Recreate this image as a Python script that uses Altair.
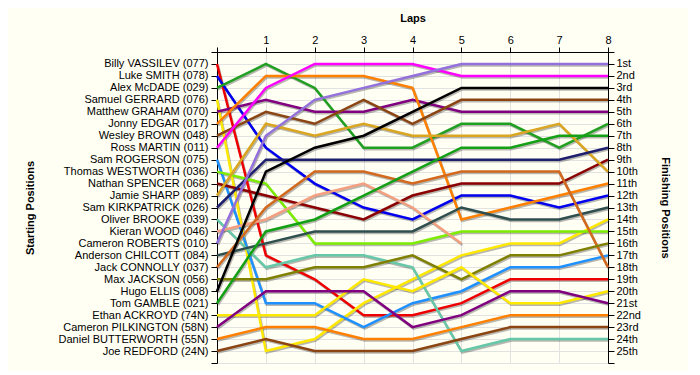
import json
import altair as alt
import pandas as pd

DRIVERS = [
    "Billy VASSILEV (077)", "Luke SMITH (078)", "Alex McDADE (029)", "Samuel GERRARD (076)",
    "Matthew GRAHAM (070)", "Jonny EDGAR (017)", "Wesley BROWN (048)", "Ross MARTIN (011)",
    "Sam ROGERSON (075)", "Thomas WESTWORTH (036)", "Nathan SPENCER (068)", "Jamie SHARP (089)",
    "Sam KIRKPATRICK (026)", "Oliver BROOKE (039)", "Kieran WOOD (046)", "Cameron ROBERTS (010)",
    "Anderson CHILCOTT (084)", "Jack CONNOLLY (037)", "Max JACKSON (056)", "Hugo ELLIS (008)",
    "Tom GAMBLE (021)", "Ethan ACKROYD (74N)", "Cameron PILKINGTON (58N)",
    "Daniel BUTTERWORTH (55N)", "Joe REDFORD (24N)",
]

COLORS = [
    "#ee0000", "#0000ee", "#20a020", "#ffe800", "#800080", "#ff8000", "#8b4513", "#ff00ff",
    "#1e90ff", "#7cec00", "#8b0000", "#daa520", "#1f1f6f", "#66c8a8", "#f4a080", "#9370db",
    "#2f4f4f", "#d2691e", "#808000", "#000000", "#14a014", "#ffe800", "#800080", "#ff8000",
    "#8b4513",
]

# position of each driver at lap 0..8 (lap 0 = grid)
POSITIONS = [
    [1, 17, 19, 22, 22, 21, 19, 19, 19],
    [2, 8, 11, 13, 14, 12, 12, 13, 12],
    [3, 1, 3, 8, 8, 6, 6, 8, 6],
    [4, 25, 24, 21, 19, 17, 16, 16, 14],
    [5, 4, 5, 5, 4, 5, 5, 5, 5],
    [6, 2, 2, 2, 3, 14, 13, 12, 11],
    [7, 5, 6, 4, 6, 4, 4, 4, 4],
    [8, 3, 1, 1, 1, 2, 2, 2, 2],
    [9, 21, 21, 23, 21, 20, 18, 18, 17],
    [10, 11, 16, 16, 16, 15, 15, 15, 15],
    [11, 12, 13, 14, 12, 11, 11, 11, 9],
    [12, 6, 7, 6, 7, 7, 7, 6, 10],
    [13, 9, 9, 9, 9, 9, 9, 9, 8],
    [14, 18, 17, 17, 18, 25, 24, 24, 24],
    [15, 14, 12, 11, 13, 16],
    [16, 7, 4, 3, 2, 1, 1, 1, 1],
    [17, 16, 15, 15, 15, 13, 14, 14, 13],
    [18, 13, 10, 10, 11, 10, 10, 10, 18],
    [19, 19, 18, 18, 17, 19, 17, 17, 16],
    [20, 10, 8, 7, 5, 3, 3, 3, 3],
    [21, 15, 14, 12, 10, 8, 8, 7, 7],
    [22, 22, 22, 19, 20, 18, 21, 21, 20],
    [23, 20, 20, 20, 23, 22, 20, 20, 21],
    [24, 23, 23, 24, 24, 23, 22, 22, 22],
    [25, 24, 25, 25, 25, 24, 23, 23, 23],
]

FINISH_LABELS = [
    "1st", "2nd", "3rd", "4th", "5th", "6th", "7th", "8th", "9th", "10th", "11th", "12th",
    "13th", "14th", "15th", "16th", "17th", "18th", "19th", "20th", "21st", "22nd", "23rd",
    "24th", "25th",
]

LAP_TICKS = list(range(9))

rows = []
for i, (name, pos_list) in enumerate(zip(DRIVERS, POSITIONS)):
    for lap, p in enumerate(pos_list):
        rows.append({"driver": name, "idx": i, "lap": lap, "pos": p})
df = pd.DataFrame(rows)

FONT = "Liberation Sans"
left_labels = [""] + DRIVERS + [""]
right_labels = [""] + FINISH_LABELS + [""]
y_values = list(range(27))

yscale = alt.Scale(domain=[0, 26], reverse=True, nice=False, zero=False)
xscale = alt.Scale(domain=[0, 8], nice=False, zero=False)

x_axis = alt.Axis(
    orient="top", values=LAP_TICKS, labelExpr="datum.value == 0 ? '' : datum.label",
    title="Laps", titleFont=FONT, titleFontSize=11, titleFontWeight="bold", titleColor="black",
    titleY=-29, labelFont=FONT, labelFontSize=11, labelColor="black", labelPadding=2,
    labelFlush=False, tickSize=5, tickColor="black", domainColor="black",
    grid=True, gridColor="#e2e2e2", gridWidth=1,
)

left_axis = alt.Axis(
    orient="left", values=y_values, labelExpr=f"{json.dumps(left_labels)}[datum.value]",
    title="Starting Positions", titleFont=FONT, titleFontSize=11, titleFontWeight="bold",
    titleColor="black", titleX=-182, titleY=155.5, labelFont=FONT, labelFontSize=11,
    labelColor="black", labelPadding=3, labelOverlap=False, labelFlush=False, labelLimit=300,
    tickSize=6, tickColor="black", domainColor="black",
    grid=True, gridColor="#e2e2e2", gridWidth=1,
)

right_axis = alt.Axis(
    orient="right", values=y_values, labelExpr=f"{json.dumps(right_labels)}[datum.value]",
    title="Finishing Positions", titleFont=FONT, titleFontSize=11, titleFontWeight="bold",
    titleColor="black", titleX=51, titleY=155.5, labelFont=FONT, labelFontSize=11,
    labelColor="black", labelPadding=2, labelOverlap=False, labelFlush=False,
    tickSize=6, tickColor="black", domainColor="black", grid=False,
)

color = alt.Color("driver:N", scale=alt.Scale(domain=DRIVERS, range=COLORS), legend=None)

base = alt.Chart(df)

shadow = base.mark_line(strokeWidth=2.5, color="#000000", opacity=0.28, xOffset=1, yOffset=1.5).encode(
    x=alt.X("lap:Q", scale=xscale, axis=x_axis),
    y=alt.Y("pos:Q", scale=yscale, axis=None),
    detail="driver:N",
    order="lap:Q",
)

lines = base.mark_line(strokeWidth=2.5).encode(
    x=alt.X("lap:Q", scale=xscale, axis=x_axis),
    y=alt.Y("pos:Q", scale=yscale, axis=left_axis),
    color=color,
    order="lap:Q",
)

right = base.mark_line(opacity=0).encode(
    x=alt.X("lap:Q", scale=xscale, axis=x_axis),
    y=alt.Y("pos:Q", scale=yscale, axis=right_axis),
    detail="driver:N",
)

chart = alt.layer(shadow, lines, right).resolve_scale(y="independent").properties(
    width=391, height=311,
    padding={"left": 209, "top": 44, "right": 80, "bottom": 8},
    autosize="none",
    background="#fffff4",
).configure_view(stroke=None)

chart.save("out.html", embed_options={"renderer": "svg", "actions": False})
